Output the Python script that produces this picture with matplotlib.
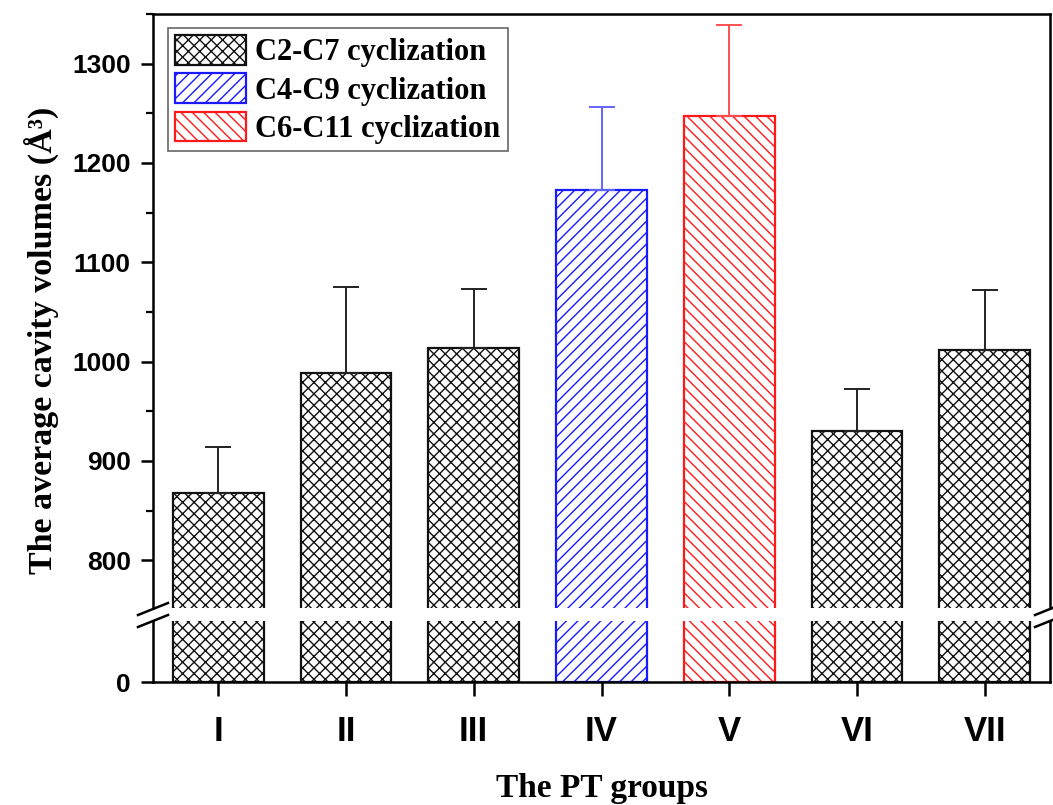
import matplotlib
matplotlib.use("Agg")
import matplotlib.pyplot as plt
from matplotlib.lines import Line2D
from matplotlib.patches import Patch
from matplotlib.ticker import MultipleLocator

groups = ["I", "II", "III", "IV", "V", "VI", "VII"]
values = [868, 989, 1014, 1173, 1247, 930, 1012]
errors = [46, 86, 59, 83, 92, 42, 60]
series = ["C2-C7", "C2-C7", "C2-C7", "C4-C9", "C6-C11", "C2-C7", "C2-C7"]
legend_labels = ["C2-C7 cyclization", "C4-C9 cyclization", "C6-C11 cyclization"]

DPI = 137
K = 100.0 / DPI  # convert "points at 100 dpi" to real points


def p(v):
    return v * K


style = {
    "C2-C7": dict(color="#111111", hatch="xxxx", ecol="#222222"),
    "C4-C9": dict(color="#1a1aff", hatch="////", ecol="#6464ff"),
    "C6-C11": dict(color="#ff1a1a", hatch="\\\\\\\\", ecol="#ff5050"),
}

plt.rcParams["hatch.linewidth"] = p(1.0)
fig = plt.figure(figsize=(1053 / DPI, 805 / DPI), dpi=DPI)
L, W = 153 / 1053, (1050 - 153) / 1053
ax_top = fig.add_axes([L, 1 - 608 / 805, W, (608 - 14) / 805])
ax_bot = fig.add_axes([L, 1 - 682 / 805, W, (682 - 621) / 805])

x = list(range(len(groups)))
for ax in (ax_top, ax_bot):
    for xi, v, e, s in zip(x, values, errors, series):
        st = style[s]
        ax.bar(xi, v, width=0.71, facecolor="white", edgecolor=st["color"],
               hatch=st["hatch"], linewidth=p(1.6), zorder=2)
        ax.errorbar(xi, v, yerr=[[0], [e]], fmt="none", ecolor=st["ecol"],
                    elinewidth=p(1.4), capsize=p(9.5), capthick=p(1.4), zorder=3)
    ax.set_xlim(-0.51, 6.51)
    for sp in ax.spines.values():
        sp.set_linewidth(p(1.8))

ax_top.set_ylim(752, 1350)
ax_top.spines["bottom"].set_visible(False)
ax_top.tick_params(axis="x", which="both", bottom=False, labelbottom=False)
ax_top.yaxis.set_minor_locator(MultipleLocator(50))
ax_top.set_yticks([800, 900, 1000, 1100, 1200, 1300])
ax_top.tick_params(axis="y", which="major", length=p(9), width=p(1.8), direction="out",
                   right=False, pad=p(7))
ax_top.tick_params(axis="y", which="minor", length=p(5), width=p(1.6), direction="out", right=False)

ax_bot.set_ylim(0, 60)
ax_bot.spines["top"].set_visible(False)
ax_bot.set_yticks([0])
ax_bot.tick_params(axis="y", length=p(9), width=p(1.8), direction="out", pad=p(7))
ax_bot.set_xticks(x)
ax_bot.set_xticklabels(groups)
ax_bot.tick_params(axis="x", length=p(10), width=p(1.8), direction="out", pad=p(14))

for ax in (ax_top, ax_bot):
    for lab in ax.get_yticklabels():
        lab.set_fontfamily("Liberation Sans")
        lab.set_fontweight("bold")
        lab.set_fontsize(p(19))
for lab in ax_bot.get_xticklabels():
    lab.set_fontfamily("Liberation Sans")
    lab.set_fontweight("bold")
    lab.set_fontsize(p(25))

ax_bot.set_xlabel("The PT groups", fontfamily="Liberation Serif", fontweight="bold",
                  fontsize=p(24), labelpad=p(18))
fig.text(0.039, 0.577, "The average cavity volumes (Å³)",
         rotation=90, ha="center", va="center",
         fontfamily="Liberation Serif", fontweight="bold", fontsize=p(24.5))

# break marks
for xc in (153, 1050):
    for yc in (609, 621):
        fig.add_artist(Line2D([(xc - 15) / 1053, (xc + 15) / 1053],
                              [1 - (yc + 6) / 805, 1 - (yc - 6) / 805],
                              color="black", linewidth=p(1.8), transform=fig.transFigure))

handles = [Patch(facecolor="white", edgecolor=style[k]["color"], hatch=style[k]["hatch"],
                 linewidth=p(1.6)) for k in ["C2-C7", "C4-C9", "C6-C11"]]
leg = ax_top.legend(handles, legend_labels, loc="upper left", bbox_to_anchor=(0.0165, 0.977),
                    prop=dict(family="Liberation Serif", weight="bold", size=p(22)),
                    handlelength=2.3, handleheight=1.1, handletextpad=0.3,
                    labelspacing=0.2, borderpad=0.25, borderaxespad=0,
                    fancybox=False, framealpha=1, edgecolor="#666666")
leg.get_frame().set_linewidth(p(1.2))

fig.savefig("out.png", dpi=DPI)
